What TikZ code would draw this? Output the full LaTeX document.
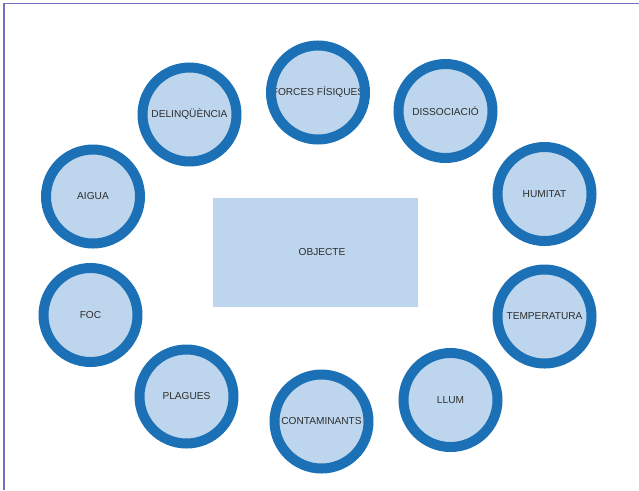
\documentclass[tikz,border=0pt]{standalone}
\usepackage{fontspec}
\setmainfont{Liberation Sans}
\definecolor{ringblue}{RGB}{27,112,182}
\definecolor{fillblue}{RGB}{190,214,237}
\definecolor{framecol}{RGB}{112,112,190}
\definecolor{txt}{RGB}{45,45,45}
\begin{document}
\begin{tikzpicture}[x=0.75pt,y=-0.75pt,
  disc/.style={circle,fill=fillblue,minimum size=70.5pt,inner sep=0pt},
  ring/.style={circle,draw=ringblue,line width=7.5pt,minimum size=70.5pt,inner sep=0pt},
  lab/.style={font=\fontsize{7.6pt}{9pt}\selectfont,text=txt,inner sep=0pt},
  objbox/.style={rectangle,fill=fillblue,minimum width=153.75pt,minimum height=81.75pt,inner sep=0pt}]
\useasboundingbox (0,0) rectangle (639,490);
\draw[framecol,line width=0.9pt] (4,490) -- (4,3.5) -- (639,3.5);
\node[objbox] (obj) at (315.5,252.5) {};
\node[lab] (objl) at (322,252) {OBJECTE};
\foreach \n/\x/\y/\t in {
  del/189.5/114.5/DELINQÜÈNCIA,
  for/318/92.5/FORCES FÍSIQUES,
  dis/445.5/111/DISSOCIACIÓ,
  hum/544.5/194/HUMITAT,
  aig/93/196.5/AIGUA,
  foc/90.5/315/FOC,
  pla/186.5/396.5/PLAGUES,
  con/321.5/421.5/CONTAMINANTS,
  llu/450.5/400/LLUM,
  tem/544.5/316.5/TEMPERATURA}{
  \node[disc] (\n) at (\x,\y) {};
  \node[lab] (\n l) at (\n) {\t};
  \node[ring] (\n r) at (\n) {};
}
\end{tikzpicture}
\end{document}
